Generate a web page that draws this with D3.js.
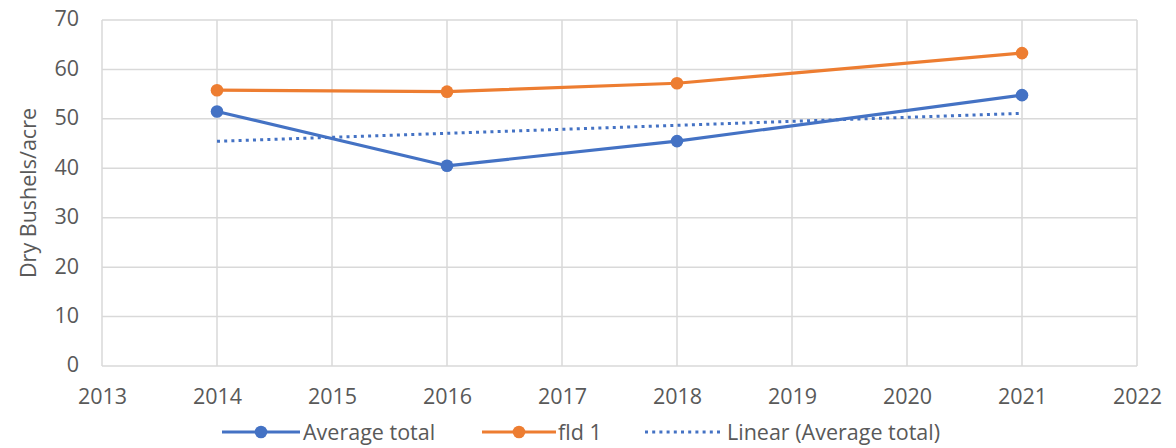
<!DOCTYPE html>
<html>
<head>
<meta charset="utf-8">
<script src="https://cdn.jsdelivr.net/npm/d3@7"></script>
<style>
  html, body { margin: 0; padding: 0; background: #fff; }
  svg { display: block; }
  text { font-family: "Open Sans", Lato, sans-serif; fill: #595959; }
</style>
</head>
<body>
<svg id="chart" width="1176" height="448"></svg>
<script>
// Yield data (dry bushels per acre)
const years = [2014, 2016, 2018, 2021];
const averageTotal = [51.5, 40.5, 45.5, 54.8];
const fld1 = [55.8, 55.5, 57.2, 63.3];
const xTicks = [2013, 2014, 2015, 2016, 2017, 2018, 2019, 2020, 2021, 2022];
const yTicks = [0, 10, 20, 30, 40, 50, 60, 70];
const seriesNames = ["Average total", "fld 1", "Linear (Average total)"];

const blue = "#4472C4", orange = "#ED7D31", grid = "#d9d9d9";
const fontSize = "21.5px";

const svg = d3.select("#chart");
const m = { left: 102, right: 1137, top: 20, bottom: 366 };

const x = d3.scaleLinear().domain([2013, 2022]).range([m.left, m.right]);
const y = d3.scaleLinear().domain([0, 70]).range([m.bottom, m.top]);

// Gridlines
const g = svg.append("g");
g.selectAll(".hgrid").data(yTicks).join("line")
  .attr("x1", m.left).attr("x2", m.right)
  .attr("y1", d => y(d)).attr("y2", d => y(d))
  .attr("stroke", grid).attr("stroke-width", 1.5);
g.selectAll(".vgrid").data(xTicks).join("line")
  .attr("x1", d => x(d)).attr("x2", d => x(d))
  .attr("y1", m.top).attr("y2", m.bottom)
  .attr("stroke", grid).attr("stroke-width", 1.5);

// Axes (labels only)
const yAxis = d3.axisLeft(y).tickValues(yTicks).tickSize(0).tickPadding(23);
svg.append("g").attr("transform", `translate(${m.left},-1)`).call(yAxis)
  .call(s => s.select(".domain").remove())
  .selectAll("text").style("font-size", fontSize).attr("fill", "#595959");

const xAxis = d3.axisBottom(x).tickValues(xTicks).tickFormat(d3.format("d")).tickSize(0).tickPadding(23);
svg.append("g").attr("transform", `translate(0,${m.bottom})`).call(xAxis)
  .call(s => s.select(".domain").remove())
  .selectAll("text").style("font-size", fontSize).attr("fill", "#595959");

// Axis title
svg.append("text")
  .attr("transform", `translate(28,${(m.top + m.bottom) / 2}) rotate(-90)`)
  .attr("text-anchor", "middle")
  .attr("dy", "0.35em")
  .style("font-size", fontSize)
  .text("Dry Bushels/acre");

// Linear trendline of the average total (least squares)
const mx = d3.mean(years), my = d3.mean(averageTotal);
const slope = d3.sum(years, (v, i) => (v - mx) * (averageTotal[i] - my)) /
              d3.sum(years, v => (v - mx) * (v - mx));
const trendAt = t => my + slope * (t - mx);
const trend = [years[0], years[years.length - 1]].map(t => ({ t, v: trendAt(t) }));

const line = d3.line().x(d => x(d.t)).y(d => y(d.v));
const toPts = vals => years.map((t, i) => ({ t, v: vals[i] }));

svg.append("path").datum(trend).attr("d", line)
  .attr("fill", "none").attr("stroke", blue).attr("stroke-width", 3)
  .attr("stroke-dasharray", "3,4.2");

function drawSeries(vals, color) {
  const pts = toPts(vals);
  svg.append("path").datum(pts).attr("d", line)
    .attr("fill", "none").attr("stroke", color).attr("stroke-width", 3.2)
    .attr("stroke-linejoin", "round");
  svg.append("g").selectAll("circle").data(pts).join("circle")
    .attr("cx", d => x(d.t)).attr("cy", d => y(d.v)).attr("r", 6.3)
    .attr("fill", color);
}
drawSeries(fld1, orange);
drawSeries(averageTotal, blue);

// Legend
const ly = 432;
const legend = svg.append("g");
const items = [
  { name: seriesNames[0], color: blue, x0: 222, x1: 300, marker: true, dash: null, tx: 303 },
  { name: seriesNames[1], color: orange, x0: 482, x1: 556, marker: true, dash: null, tx: 558 },
  { name: seriesNames[2], color: blue, x0: 645, x1: 720, marker: false, dash: "3,4.2", tx: 727 }
];
items.forEach(it => {
  legend.append("line")
    .attr("x1", it.x0).attr("x2", it.x1).attr("y1", ly).attr("y2", ly)
    .attr("stroke", it.color).attr("stroke-width", 3)
    .attr("stroke-dasharray", it.dash);
  if (it.marker) {
    legend.append("circle").attr("cx", (it.x0 + it.x1) / 2).attr("cy", ly).attr("r", 6.3).attr("fill", it.color);
  }
  legend.append("text").attr("x", it.tx).attr("y", ly).attr("dy", "0.35em")
    .style("font-size", fontSize).text(it.name);
});
</script>
</body>
</html>
